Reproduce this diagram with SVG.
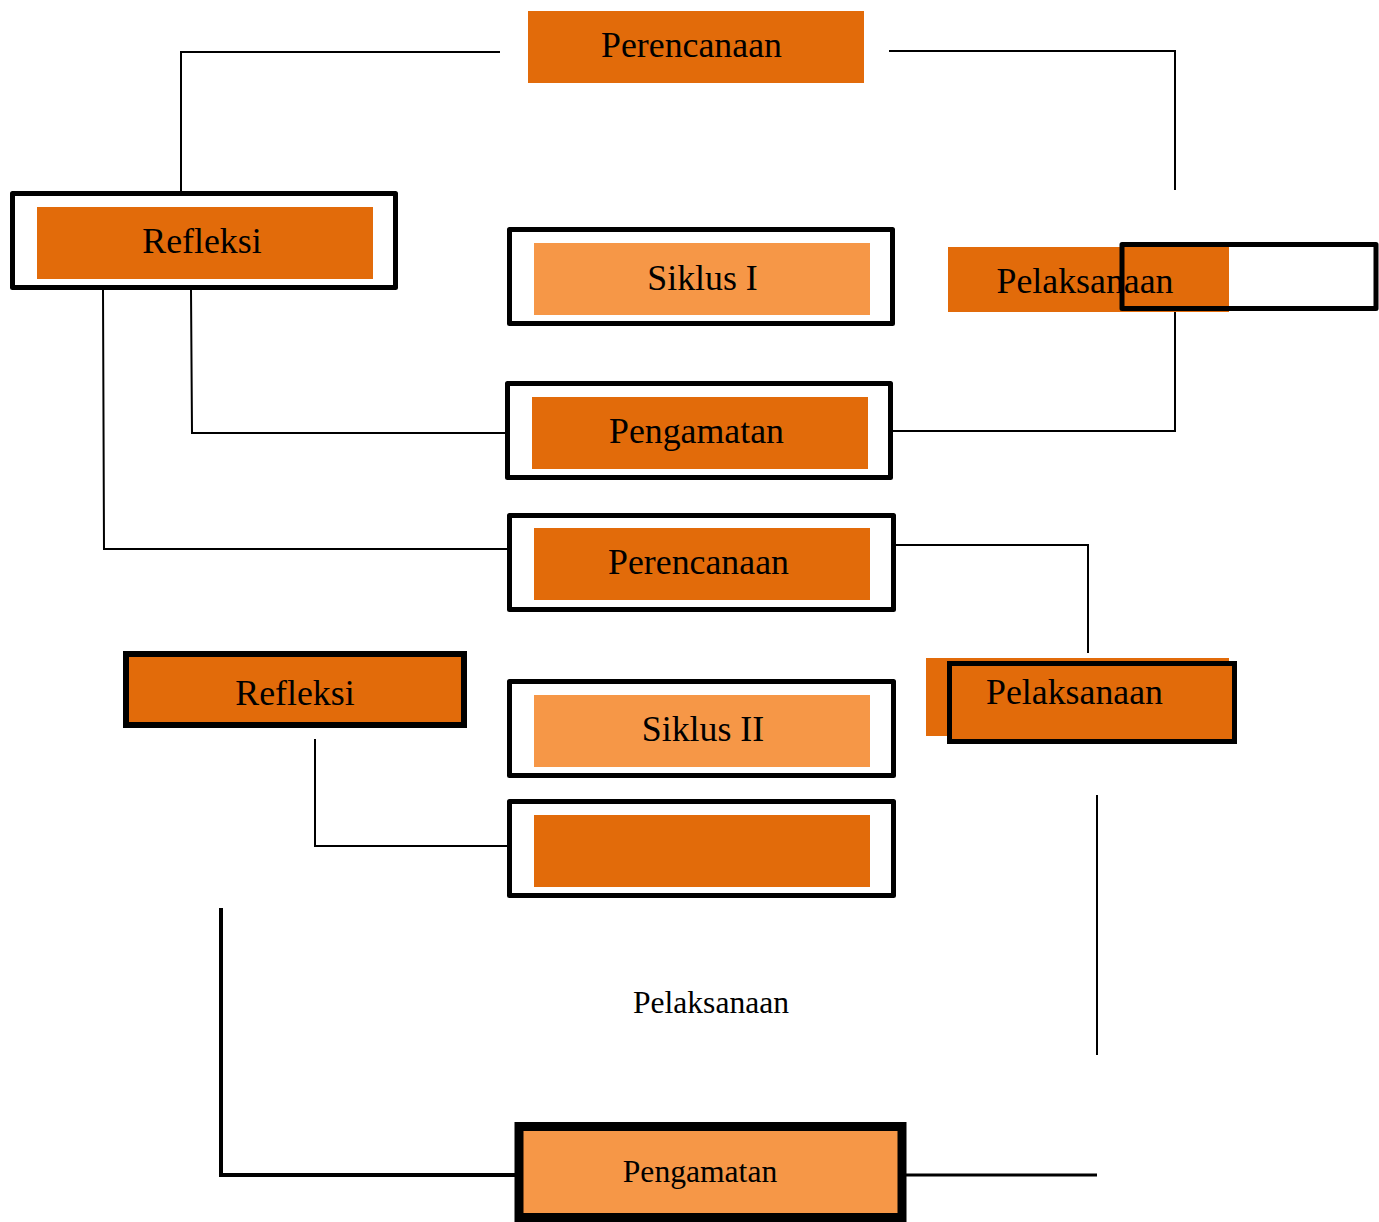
<svg xmlns="http://www.w3.org/2000/svg" width="1379" height="1222" viewBox="0 0 1379 1222">
<style>
.t{font-family:"Liberation Serif","Times New Roman",serif;font-size:35.8px;fill:#000;text-anchor:middle}
.s{font-size:31.6px}
.dk{fill:#E26B0A}
.lt{fill:#F69747}
.frame{fill:none;stroke:#000;stroke-width:5;stroke-linejoin:round}
.c{fill:none;stroke:#000;stroke-width:2}
</style>
<rect width="1379" height="1222" fill="#fff"/>
<g id="connectors">
<polyline class="c" points="500,52 181,52 181,191"/>
<polyline class="c" points="889,51 1175,51 1175,190"/>
<polyline class="c" points="1175,310 1175,431 892,431"/>
<polyline class="c" points="191,290 192,433 505,433"/>
<polyline class="c" points="103,290 104,549 507,549"/>
<polyline class="c" points="896,545 1088,545 1088,653"/>
<polyline class="c" points="315,739 315,846 507,846"/>
<line class="c" x1="1097" y1="795" x2="1097" y2="1055"/>
<polyline fill="none" stroke="#000" stroke-width="4" points="221,908 221,1175 516,1175"/>
<line stroke="#000" stroke-width="3" x1="906" y1="1175" x2="1097" y2="1175"/>
</g>
<g id="perencanaan1">
<rect class="dk" x="528" y="11" width="336" height="72"/>
<text class="t" x="691.5" y="57">Perencanaan</text>
</g>
<g id="refleksi1">
<rect class="frame" x="12.5" y="193.5" width="383" height="94"/>
<rect class="dk" x="37" y="207" width="336" height="72"/>
<text class="t" x="202" y="253">Refleksi</text>
</g>
<g id="siklus1">
<rect class="frame" x="509.5" y="229.5" width="383" height="94"/>
<rect class="lt" x="534" y="243" width="336" height="72"/>
<text class="t" x="702.5" y="290">Siklus I</text>
</g>
<g id="pelaksanaan1">
<rect class="dk" x="948" y="247" width="281" height="65"/>
<text class="t" x="1085" y="293">Pelaksanaan</text>
<rect class="frame" x="1122" y="244.5" width="254" height="64"/>
</g>
<g id="pengamatan1">
<rect class="frame" x="507.5" y="383.5" width="383" height="94"/>
<rect class="dk" x="532" y="397" width="336" height="72"/>
<text class="t" x="696.5" y="443">Pengamatan</text>
</g>
<g id="perencanaan2">
<rect class="frame" x="509.5" y="515.5" width="384" height="94"/>
<rect class="dk" x="534" y="528" width="336" height="72"/>
<text class="t" x="698.5" y="574">Perencanaan</text>
</g>
<g id="refleksi2">
<rect class="dk" x="126" y="654" width="338" height="71" stroke="#000" stroke-width="6"/>
<text class="t" x="295" y="705">Refleksi</text>
</g>
<g id="pelaksanaan2">
<rect class="dk" x="926" y="658" width="303" height="78"/>
<rect class="dk" x="949.5" y="663.5" width="285" height="78" stroke="#000" stroke-width="5"/>
<text class="t" x="1074.5" y="704">Pelaksanaan</text>
</g>
<g id="siklus2">
<rect class="frame" x="509.5" y="681.5" width="384" height="94"/>
<rect class="lt" x="534" y="695" width="336" height="72"/>
<text class="t" x="703" y="741">Siklus II</text>
</g>
<g id="blank">
<rect class="frame" x="509.5" y="801.5" width="384" height="94"/>
<rect class="dk" x="534" y="815" width="336" height="72"/>
</g>
<g id="pelaksanaan3">
<text class="t s" x="711" y="1013">Pelaksanaan</text>
</g>
<g id="pengamatan2">
<rect class="lt" x="519" y="1126.5" width="383" height="91" stroke="#000" stroke-width="9"/>
<text class="t s" x="700" y="1182">Pengamatan</text>
</g>
</svg>
